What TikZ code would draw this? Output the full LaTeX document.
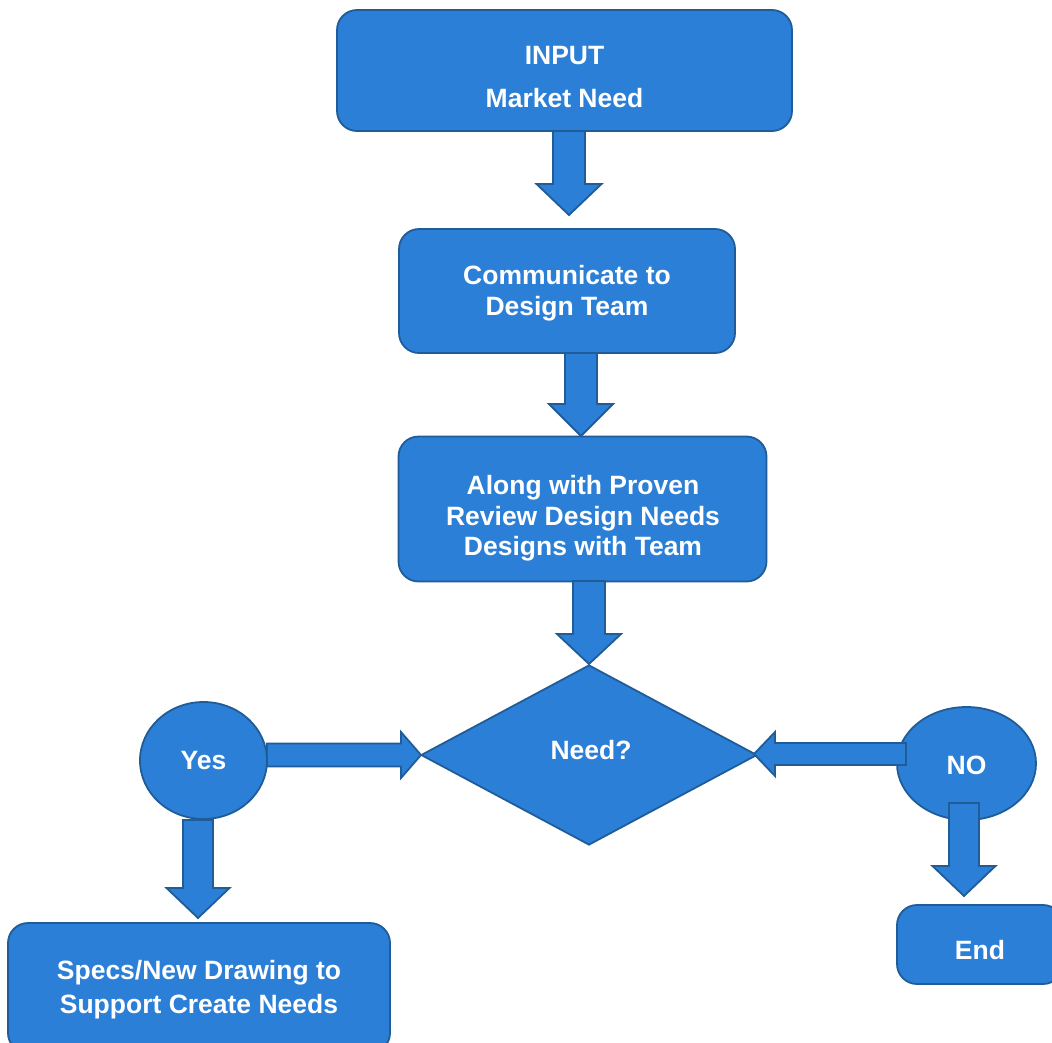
\documentclass[tikz,border=0pt]{standalone}
\usepackage{fontspec}
\setmainfont{Liberation Sans}
\usetikzlibrary{shapes.geometric,calc}
\definecolor{boxfill}{RGB}{43,127,214}
\definecolor{boxline}{RGB}{32,92,152}
\tikzset{
  base/.style={fill=boxfill, draw=boxline, line width=1.8pt, text=white,
    font=\fontsize{26.5}{30.5}\selectfont\bfseries, align=center, inner sep=0pt},
  rbox/.style={base, rectangle, rounded corners=20pt},
  oval/.style={base, ellipse},
  decision/.style={base, diamond},
  lbl/.style={base, draw=none, fill=none},
  blk/.style={fill=boxfill, draw=boxline, line width=1.8pt, line join=miter},
}
% vertical block arrow: #1 start, #2 tip, #3 half shaft, #4 half head, #5 head length
\newcommand\vblock[5]{%
  \path let \p1=(#1), \p2=(#2) in [blk]
    (\x1-#3,\y1) -- (\x1-#3,\y2+#5) -- (\x1-#4,\y2+#5) -- (\x1,\y2)
    -- (\x1+#4,\y2+#5) -- (\x1+#3,\y2+#5) -- (\x1+#3,\y1) -- cycle;}
% horizontal block arrow (#6 = +1 pointing right, -1 pointing left)
\newcommand\hblock[6]{%
  \path let \p1=(#1), \p2=(#2) in [blk]
    (\x1,\y2+#3) -- (\x2-#6*#5,\y2+#3) -- (\x2-#6*#5,\y2+#4) -- (\x2,\y2)
    -- (\x2-#6*#5,\y2-#4) -- (\x2-#6*#5,\y2-#3) -- (\x1,\y2-#3) -- cycle;}
\begin{document}
\begin{tikzpicture}[x=1pt,y=-1pt]
\useasboundingbox (0,0) rectangle (1052,1042);
\clip (0,0) rectangle (1052,1042);

\node[rbox, minimum width=455pt, minimum height=121pt] (inp) at (564.5,70.5) {};
\node[lbl] (inpt) at (564.5,77) {INPUT\\[13pt]Market Need};
\node[rbox, minimum width=336pt, minimum height=124pt] (com) at (567,291) {};
\node[lbl] (comt) at (567,293) {Communicate to\\Design Team};
\node[rbox, minimum width=368pt, minimum height=145pt] (rev) at (582.5,509) {};
\node[lbl] (revt) at (583,518.5) {Along with Proven\\Review Design Needs\\Designs with Team};
\node[decision, minimum width=336pt, minimum height=180pt] (need) at (589,755) {};
\node[lbl] (needt) at (591,750) {Need?};
\node[oval, minimum width=127pt, minimum height=117pt] (yes) at (203.5,760.5) {Yes};
\node[oval, minimum width=139pt, minimum height=113pt] (no) at (966.5,763.5) {};
\node[lbl] (not) at (966.5,765) {NO};
\node[rbox, minimum width=382pt, minimum height=130pt] (spec) at (199,988) {};
\node[lbl] (spect) at (199,990) {Specs/New Drawing to\\[3.5pt]Support Create Needs};
\node[rbox, minimum width=166pt, minimum height=79pt] (end) at (980,944.5) {};
\node[lbl] (endt) at (980,950) {End};

% arrow start/tip coordinates
\coordinate (a1s) at (569,131);  \coordinate (a1t) at (569,215);
\coordinate (a2s) at (581,353);  \coordinate (a2t) at (581,436);
\coordinate (a3s) at (589,581);  \coordinate (a3t) at (589,664);
\coordinate (ys)  at (267,755);  \coordinate (yt)  at (421,755);
\coordinate (ns)  at (906,754);  \coordinate (nt)  at (754,754);
\coordinate (yds) at (198,820);  \coordinate (ydt) at (198,918);
\coordinate (nds) at (964,803);  \coordinate (ndt) at (964,896);

\vblock{a1s}{a1t}{16}{32.5}{31}
\vblock{a2s}{a2t}{16}{32}{32}
\vblock{a3s}{a3t}{16}{32}{30}
\vblock{yds}{ydt}{15}{31.5}{30}
\vblock{nds}{ndt}{15}{31.5}{30}
\hblock{ys}{yt}{11.5}{23}{20}{1}
\hblock{ns}{nt}{11}{22}{21}{-1}
\end{tikzpicture}
\end{document}
